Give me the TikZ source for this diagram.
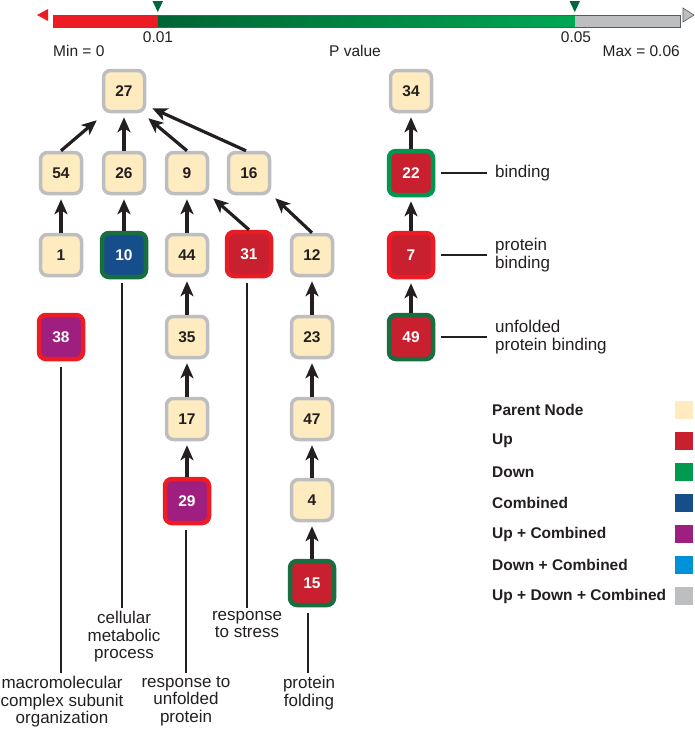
\documentclass[tikz,border=0pt]{standalone}
\usepackage{fontspec}
\setmainfont{Liberation Sans}
\usetikzlibrary{arrows.meta,calc}
\definecolor{parent}{RGB}{254,235,192}
\definecolor{pborder}{RGB}{190,190,192}
\definecolor{upfill}{RGB}{200,32,46}
\definecolor{brred}{RGB}{237,28,36}
\definecolor{dkgreen}{RGB}{24,110,62}
\definecolor{mgreen}{RGB}{0,150,80}
\definecolor{combined}{RGB}{22,78,140}
\definecolor{upcomb}{RGB}{158,31,128}
\definecolor{downc}{RGB}{0,154,78}
\definecolor{downcomb}{RGB}{0,146,216}
\definecolor{udc}{RGB}{188,190,192}
\definecolor{txt}{RGB}{35,31,32}
\definecolor{gradl}{RGB}{0,100,52}
\definecolor{gradr}{RGB}{0,168,82}
\definecolor{mkgreen}{RGB}{0,105,60}
\begin{document}
\begin{tikzpicture}[x=1pt,y=-1pt,
  box/.style={rounded corners=7pt, minimum size=41pt, line width=3.5pt, draw=pborder, fill=parent,
    font=\bfseries\fontsize{15.5}{15.5}\selectfont, inner sep=0pt, text=txt},
  cbox/.style={box, minimum size=44pt, line width=4.5pt, text=white},
  arr/.style={line width=3.2pt, draw=txt, -{Stealth[length=15pt,width=13pt,inset=4pt]}},
  lline/.style={line width=1.6pt, draw=txt},
  lab/.style={font=\fontsize{17}{17.5}\selectfont, align=center, inner sep=3pt, anchor=north, text=txt},
  rlab/.style={font=\fontsize{17}{17.5}\selectfont, align=left, inner xsep=8pt, inner ysep=0pt, anchor=west, text=txt},
  leg/.style={font=\bfseries\fontsize{15.5}{15.5}\selectfont, anchor=west, inner sep=0pt, text=txt},
  sw/.style={minimum size=18pt, inner sep=0pt},
  cbt/.style={font=\fontsize{15.5}{15.5}\selectfont, inner sep=0pt, text=txt}
]
\useasboundingbox (0,0) rectangle (695,729);

% ---- colour bar ----
\fill[brred] (53,15) rectangle (158,27);
\shade[left color=gradl, right color=gradr] (158,15) rectangle (575,27);
\fill[udc] (575,15) rectangle (680,27);
\draw[gray!70!black, line width=0.6pt] (53,15) rectangle (680,27);
\fill[brred] (37,15) -- (48,9) -- (48,21) -- cycle;
\filldraw[fill=udc, draw=gray!70!black, line width=0.6pt] (683,8) -- (694,15) -- (683,22) -- cycle;
\fill[mkgreen] (152.5,1) -- (163,1) -- (157.8,12) -- cycle;
\fill[mkgreen] (569.5,1) -- (580,1) -- (574.8,12) -- cycle;
\node[cbt] (t001) at (158,37) {0.01};
\node[cbt] (t005) at (576,37) {0.05};
\node[cbt, anchor=west] (tmin) at (53,51) {Min = 0};
\node[cbt] (tpv) at (355,51) {P value};
\node[cbt, anchor=east] (tmax) at (680,51) {Max = 0.06};

% ---- left tree ----
\node[box] (n27) at (124,91) {27};
\node[box] (n54) at (61,173) {54};
\node[box] (n26) at (124,173) {26};
\node[box] (n9) at (187,173) {9};
\node[box] (n16) at (249,173) {16};
\node[box] (n1) at (61,255) {1};
\node[cbox, fill=combined, draw=dkgreen] (n10) at (124,255) {10};
\node[box] (n44) at (187,255) {44};
\node[cbox, fill=upfill, draw=brred!85!upfill] (n31) at (249,254) {31};
\node[box] (n12) at (312,255) {12};
\node[cbox, fill=upcomb, draw=brred] (n38) at (61,337) {38};
\node[box] (n35) at (187,337) {35};
\node[box] (n23) at (312,337) {23};
\node[box] (n17) at (187,419) {17};
\node[box] (n47) at (312,419) {47};
\node[cbox, fill=upcomb, draw=brred] (n29) at (187,501) {29};
\node[box] (n4) at (312,500) {4};
\node[cbox, fill=upfill, draw=dkgreen] (n15) at (312,583) {15};

\draw[arr] (n54.north) -- ($(n27.south west)+(-5,7)$);
\draw[arr, shorten >=4pt] (n26.north) -- (n27.south);
\draw[arr] (n9.north) -- ($(n27.south east)+(2,5)$);
\draw[arr] ($(n16.north)+(-3,0)$) -- ($(n27.south east)+(6,-5)$);
\draw[arr, shorten >=4pt] (n1.north) -- (n54.south);
\draw[arr, shorten >=4pt] (n10.north) -- (n26.south);
\draw[arr, shorten >=4pt] (n44.north) -- (n9.south);
\draw[arr] (n31.north) -- ($(n9.south east)+(4,3)$);
\draw[arr] (n12.north) -- ($(n16.south east)+(4,3)$);
\draw[arr, shorten >=4pt] (n35.north) -- (n44.south);
\draw[arr, shorten >=4pt] (n17.north) -- (n35.south);
\draw[arr, shorten >=4pt] (n29.north) -- (n17.south);
\draw[arr, shorten >=4pt] (n23.north) -- (n12.south);
\draw[arr, shorten >=4pt] (n47.north) -- (n23.south);
\draw[arr, shorten >=4pt] (n4.north) -- (n47.south);
\draw[arr, shorten >=4pt] (n15.north) -- (n4.south);

% ---- bottom labels ----
\node[lab] (l38) at (62,673) {macromolecular\\complex subunit\\organization};
\node[lab] (l10) at (124,608) {cellular\\metabolic\\process};
\node[lab] (l29) at (186,673) {response to\\unfolded\\protein};
\node[lab] (l31) at (247,608) {response\\to stress};
\node[lab] (l15) at (309,673) {protein\\folding};
\draw[lline] ($(n38.south)+(0,6)$) -- (n38.south |- l38.north);
\draw[lline] ($(n10.south)+(-2,4)$) -- ($(n10.south |- l10.north)+(-2,0)$);
\draw[lline] ($(n29.south)+(-1,5)$) -- ($(n29.south |- l29.north)+(-1,0)$);
\draw[lline] ($(n31.south)+(-2,5)$) -- ($(n31.south |- l31.north)+(-2,0)$);
\draw[lline] ($(n15.south)+(-4,6)$) -- ($(n15.south |- l15.north)+(-4,0)$);

% ---- right tree ----
\node[box] (n34) at (411,91) {34};
\node[cbox, fill=upfill, draw=mgreen] (n22) at (411,173) {22};
\node[cbox, fill=upfill, draw=brred] (n7) at (411,255) {7};
\node[cbox, fill=upfill, draw=dkgreen] (n49) at (411,337) {49};
\draw[arr, shorten >=4pt] (n22.north) -- (n34.south);
\draw[arr, shorten >=4pt] (n7.north) -- (n22.south);
\draw[arr, shorten >=4pt] (n49.north) -- (n7.south);
\node[rlab] (r22) at (487,173) {binding};
\node[rlab] (r7) at (487,255) {protein\\binding};
\node[rlab] (r49) at (487,337) {unfolded\\protein binding};
\draw[lline] ($(n22.east)+(6,0)$) -- (r22.west);
\draw[lline] ($(n7.east)+(6,0)$) -- (r7.west);
\draw[lline] ($(n49.east)+(6,0)$) -- (r49.west);

% ---- legend ----
\node[leg] (g1) at (492,410) {Parent Node};
\node[leg] (g2) at (492,441) {Up};
\node[leg] (g3) at (492,472) {Down};
\node[leg] (g4) at (492,503) {Combined};
\node[leg] (g5) at (492,534) {Up + Combined};
\node[leg] (g6) at (492,565) {Down + Combined};
\node[leg] (g7) at (492,596) {Up + Down + Combined};
\node[sw, fill=parent] (s1) at (684,410) {};
\node[sw, fill=upfill] (s2) at (684,441) {};
\node[sw, fill=downc] (s3) at (684,472) {};
\node[sw, fill=combined] (s4) at (684,503) {};
\node[sw, fill=upcomb] (s5) at (684,534) {};
\node[sw, fill=downcomb] (s6) at (684,565) {};
\node[sw, fill=udc] (s7) at (684,596) {};
\end{tikzpicture}
\end{document}
